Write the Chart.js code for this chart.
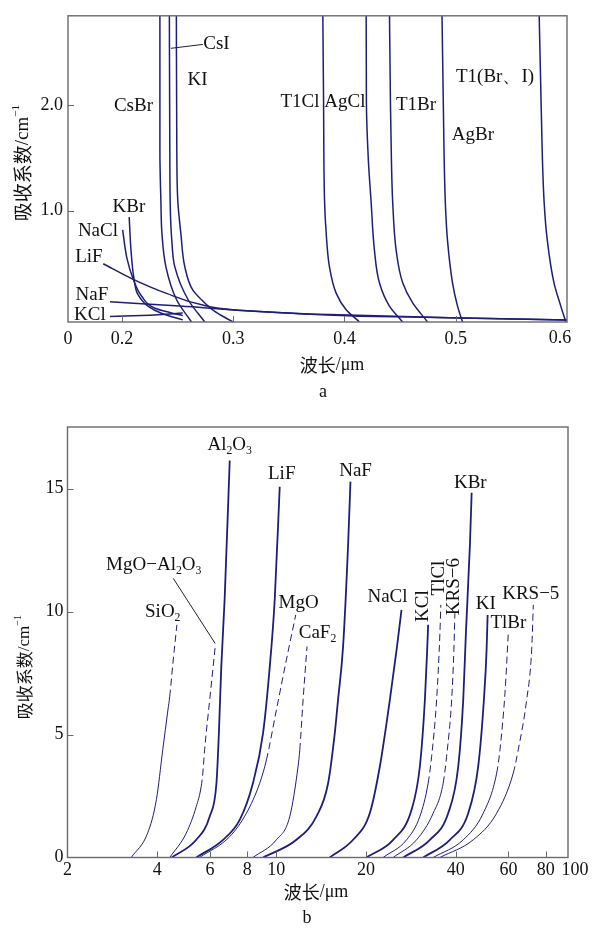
<!DOCTYPE html>
<html>
<head>
<meta charset="utf-8">
<script src="https://cdn.jsdelivr.net/npm/chart.js@4.4.1/dist/chart.umd.min.js"></script>
<style>
html, body { margin: 0; padding: 0; background: #fff; }
#wrap { position: relative; width: 600px; height: 940px; }
#chartA { position: absolute; left: 0; top: 0; }
#chartB { position: absolute; left: 0; top: 400px; }
</style>
</head>
<body>
<div id="wrap">
  <canvas id="chartA" width="600" height="400"></canvas>
  <canvas id="chartB" width="600" height="540"></canvas>
</div>
<script>
// ---- chart a : 波长 (µm) vs 吸收系数, short-wave edge ----
const xMinA = 0.1515;                 // left edge, labelled "0" (axis break)
const xTicksA = [xMinA, 0.2, 0.3, 0.4, 0.5, 0.6];
const yTicksA = [1.0, 2.0];

const csBr = [[0.2341,2.9],[0.2341,1.56],[0.2350,1.09],[0.2359,0.79],[0.2395,0.47],[0.2491,0.16],[0.2625,-0.05]];
const csI  = [[0.2426,2.9],[0.2430,1.56],[0.2435,1.00],[0.2448,0.72],[0.2475,0.47],[0.2595,0.16],[0.2744,-0.05]];
const kIa  = [[0.2489,2.9],[0.2493,1.56],[0.2502,1.09],[0.2529,0.79],[0.2565,0.47],[0.2637,0.25],[0.2715,0.16],[0.2834,0.05],[0.2998,-0.05]];
const naCla = [[0.2006,0.82],[0.2045,0.55],[0.2099,0.36],[0.2179,0.19],[0.2296,0.08],[0.2430,0.04],[0.2547,0.01]];
const kBra = [[0.2065,0.94],[0.2081,0.63],[0.2108,0.36],[0.2143,0.21],[0.2233,0.10],[0.2359,0.03],[0.2547,-0.03]];
const liFa = [[0.1832,0.50],[0.2087,0.36],[0.2401,0.22],[0.2726,0.11],[0.2996,0.065],[0.3596,0.028],[0.4135,0.005],[0.4942,-0.009],[0.6,-0.03]];
const naFa = [[0.1892,0.14],[0.2520,0.10],[0.3238,0.05],[0.3865,0.02],[0.4942,-0.01],[0.6,-0.03]];
const kCla = [[0.1892,0.003],[0.2251,0.014],[0.2547,0.035]];
const t1Cl = [[0.3805,2.9],[0.3812,2.03],[0.3821,1.09],[0.3836,0.78],[0.3865,0.47],[0.3926,0.22],[0.4015,0.065],[0.4135,-0.05]];
const agCl = [[0.4195,2.9],[0.4197,2.03],[0.4215,1.47],[0.4239,1.09],[0.4269,0.63],[0.4314,0.32],[0.4404,0.10],[0.4523,-0.05]];
const t1Br = [[0.4404,2.9],[0.4413,2.03],[0.4422,1.47],[0.4433,1.09],[0.4464,0.63],[0.4523,0.32],[0.4613,0.13],[0.4747,-0.05]];
const agBr = [[0.4876,2.9],[0.4888,2.03],[0.4906,1.09],[0.4926,0.72],[0.4971,0.32],[0.5016,0.10],[0.5061,-0.05]];
const t1BrI = [[0.5749,2.9],[0.5767,2.03],[0.5794,1.09],[0.5823,0.72],[0.5883,0.32],[0.5944,0.10],[0.5988,-0.045]];

const curvesA = [csBr, csI, kIa, naCla, kBra, liFa, naFa, kCla, t1Cl, agCl, t1Br, agBr, t1BrI];

const labelsA = [
  {x:0.2849, y:2.575, t:'CsI'}, {x:0.2679, y:2.234, t:'KI'}, {x:0.2103, y:1.991, t:'CsBr'},
  {x:0.2063, y:1.031, t:'KBr'}, {x:0.1784, y:0.813, t:'NaCl'}, {x:0.1703, y:0.564, t:'LiF'},
  {x:0.1730, y:0.206, t:'NaF'}, {x:0.1712, y:0.019, t:'KCl'},
  {x:0.3600, y:2.028, t:'T1Cl'}, {x:0.4004, y:2.028, t:'AgCl'}, {x:0.4643, y:2.000, t:'T1Br'},
  {x:0.5155, y:1.717, t:'AgBr'}, {x:0.5353, y:2.262, t:'T1(Br、I)'}
];
const leadersA = [[[0.2440,2.533],[0.2728,2.570]]];

// ---- chart b : 波长 (µm, log) vs 吸收系数, long-wave edge ----
const xMaxB = 95;                     // right edge, labelled "100"
const xTicksB = [2, 4, 6, 8, 10, 20, 40, 60, 80, xMaxB];
const xTickLabelsB = ['2','4','6','8','10','20','40','60','80','100'];
const yTicksB = [0, 5, 10, 15];

const siO2 = [[3.27,0],[3.71,0.99],[3.97,2.35],[4.17,4.38],[4.34,6.0],[4.40,6.54],[4.51,7.90],[4.65,9.46]];
const mgoAl2o3 = [[4.40,0],[5.00,0.99],[5.40,2.07],[5.61,2.89],[5.68,3.43],[5.76,4.38],[5.99,6.41],[6.26,8.65]];
const al2o3 = [[4.47,0],[5.40,0.72],[5.99,1.67],[6.31,3.02],[6.43,5.06],[6.55,7.76],[6.72,10.48],[6.99,16.14]];
const liFb = [[5.40,0],[6.64,0.72],[7.55,1.53],[8.36,3.02],[9.04,5.06],[9.52,7.76],[9.89,10.48],[10.28,15.07]];
const mgO = [[5.54,0],[6.99,0.85],[7.95,1.80],[8.81,3.02],[9.28,3.97],[10.02,6.0],[10.82,8.03],[11.63,9.86]];
const caF2 = [[8.36,0],[10.02,0.72],[11.11,1.67],[11.84,3.70],[12.0,4.38],[12.31,6.41],[12.69,8.58]];
const naFb = [[9.04,0],[11.69,0.72],[13.65,1.67],[14.93,3.02],[15.72,5.06],[16.12,6.41],[16.76,8.58],[17.42,12.71],[17.74,15.28]];
const naClb = [[15.12,0],[18.10,0.72],[20.59,1.80],[22.25,3.70],[24.04,6.41],[25.32,8.44],[26.30,10.07]];
const kClb = [[20.08,0],[24.66,0.72],[28.42,1.94],[30.30,3.70],[31.50,6.41],[32.06,8.44],[32.30,9.46]];
const tlCl = [[22.82,0],[27.36,0.72],[30.30,1.67],[32.30,3.02],[33.18,4.11],[34.48,6.41],[35.37,9.12],[35.62,10.27]];
const krs6 = [[24.66,0],[29.54,0.72],[33.58,1.80],[36.27,3.02],[37.24,4.11],[38.72,6.41],[39.40,8.44],[39.70,9.93]];
const kBrb = [[26.64,0],[32.74,0.72],[37.70,1.80],[40.74,3.70],[42.34,6.41],[43.22,9.12],[44.58,12.71],[45.18,14.83]];
const kIb = [[31.08,0],[38.20,0.72],[44.00,1.80],[47.52,3.70],[49.66,6.41],[50.70,8.44],[51.10,9.86]];
const tlBr = [[33.58,0],[42.34,0.72],[49.40,1.80],[54.80,3.43],[56.21,4.38],[58.42,6.68],[59.94,9.12]];
const krs5 = [[35.37,0],[45.74,0.72],[54.80,1.80],[62.28,3.43],[64.72,4.38],[69.06,6.41],[71.78,8.44],[72.70,10.27]];

// [points, thick?, index where the dashed part starts (-1 = none)]
const curvesB = [
  [siO2, false, 5], [mgoAl2o3, false, 3], [al2o3, true, -1], [liFb, true, -1],
  [mgO, false, 4], [caF2, false, 4], [naFb, true, -1], [naClb, true, -1],
  [kClb, true, -1], [tlCl, false, 3], [krs6, false, 3], [kBrb, true, -1],
  [kIb, true, -1], [tlBr, false, 3], [krs5, false, 3]
];

const labelsB = [
  {x:6.99, y:16.75, t:'Al_2O_3'}, {x:10.44, y:15.58, t:'LiF'}, {x:3.89, y:11.87, t:'MgO−Al_2O_3'},
  {x:4.17, y:9.97, t:'SiO_2'}, {x:11.89, y:10.36, t:'MgO'}, {x:13.76, y:9.13, t:'CaF_2'},
  {x:18.45, y:15.72, t:'NaF'}, {x:44.72, y:15.24, t:'KBr'}, {x:23.60, y:10.57, t:'NaCl'},
  {x:31.02, y:10.22, t:'KCl', rot:true}, {x:35.08, y:11.36, t:'TlCl', rot:true},
  {x:39.54, y:11.01, t:'KRS−6', rot:true},
  {x:50.38, y:10.29, t:'KI'}, {x:59.96, y:9.53, t:'TlBr'}, {x:71.28, y:10.71, t:'KRS−5'}
];
const leadersB = [[[4.52,11.35],[6.25,8.70]]];

const SERIF = '"Liberation Serif", "Times New Roman", serif';
const CJK = '"Noto Sans CJK SC", sans-serif';
const LINE = '#1e1e7a';
const TICK_SIZE = 18;

function drawSegs(ctx, segs, x, y, rot) {
  let w = 0;
  segs.forEach(s => { ctx.font = s.font; s.w = ctx.measureText(s.t).width; w += s.w; });
  ctx.save();
  ctx.translate(x, y);
  if (rot) ctx.rotate(-Math.PI / 2);
  ctx.textBaseline = 'middle';
  ctx.textAlign = 'left';
  let cx = -w / 2;
  segs.forEach(s => { ctx.font = s.font; ctx.fillText(s.t, cx, s.dy || 0); cx += s.w; });
  ctx.restore();
}

function richSegs(str, size) {
  const out = [];
  let i = 0;
  while (i < str.length) {
    if (str[i] === '_') {
      out.push({t: str[i + 1], font: (size * 0.62) + 'px ' + SERIF, dy: size * 0.3});
      i += 2;
    } else {
      let j = i;
      while (j < str.length && str[j] !== '_') j++;
      out.push({t: str.slice(i, j), font: size + 'px ' + SERIF});
      i = j;
    }
  }
  return out;
}

function yTitle(size) {
  return [
    {t: '吸收系数', font: size + 'px ' + CJK},
    {t: '/cm', font: size + 'px ' + SERIF},
    {t: '−1', font: (size * 0.6) + 'px ' + SERIF, dy: -size * 0.38}
  ];
}
function xTitle(size) {
  return [
    {t: '波长', font: size + 'px ' + CJK},
    {t: '/μm', font: size + 'px ' + SERIF}
  ];
}

function makeMarks(cfg) {
  return {
    id: 'marks',
    afterDatasetsDraw(chart) {
      const {ctx, chartArea: a, scales: {x, y}} = chart;
      ctx.save();
      ctx.strokeStyle = '#6a6a6a';
      ctx.lineWidth = 1.4;
      ctx.strokeRect(a.left, a.top, a.right - a.left, a.bottom - a.top);
      ctx.lineWidth = 1;
      ctx.beginPath();
      cfg.xMarks.forEach(v => {
        const px = Math.round(x.getPixelForValue(v)) + 0.5;
        ctx.moveTo(px, a.bottom); ctx.lineTo(px, a.bottom - 6);
      });
      cfg.yMarks.forEach(v => {
        const py = Math.round(y.getPixelForValue(v)) + 0.5;
        ctx.moveTo(a.left, py); ctx.lineTo(a.left + 6, py);
      });
      ctx.stroke();
      ctx.strokeStyle = '#222';
      ctx.beginPath();
      cfg.leaders.forEach(([p, q]) => {
        ctx.moveTo(x.getPixelForValue(p[0]), y.getPixelForValue(p[1]));
        ctx.lineTo(x.getPixelForValue(q[0]), y.getPixelForValue(q[1]));
      });
      ctx.stroke();
      ctx.fillStyle = '#111';
      cfg.labels.forEach(l => {
        drawSegs(ctx, richSegs(l.t, cfg.labelSize), x.getPixelForValue(l.x), y.getPixelForValue(l.y), l.rot);
      });
      // tick label at the axis end, set off from the edge as in the print
      cfg.edgeLabels.forEach(e => {
        drawSegs(ctx, [{t: e.t, font: TICK_SIZE + 'px ' + SERIF}], x.getPixelForValue(e.v) + e.dx, a.bottom + e.dy);
      });
      cfg.titles.forEach(tt => drawSegs(ctx, tt.segs, tt.x, tt.y, tt.rot));
      ctx.restore();
    }
  };
}

const toPts = arr => arr.map(([x, y]) => ({x, y}));

// chart a
new Chart(document.getElementById('chartA'), {
  type: 'scatter',
  data: {
    datasets: curvesA.map(c => ({
      data: toPts(c), showLine: true, borderColor: LINE, borderWidth: 1.5,
      pointRadius: 0, cubicInterpolationMode: 'monotone', indexAxis: 'y', clip: 0
    }))
  },
  options: {
    responsive: false,
    animation: false,
    layout: {padding: {top: 13, right: 33, left: 0, bottom: 0}},
    plugins: {legend: {display: false}, tooltip: {enabled: false}},
    scales: {
      x: {
        type: 'linear', min: xMinA, max: 0.6,
        grid: {display: false, drawTicks: false}, border: {display: false},
        afterBuildTicks: s => { s.ticks = xTicksA.map(v => ({value: v})); },
        afterFit: s => { s.height = 78; },
        ticks: {
          autoSkip: false, maxRotation: 0, padding: 6, color: '#111',
          font: {family: SERIF, size: TICK_SIZE},
          callback: v => v === xMinA ? '0' : (v === 0.6 ? '' : v.toFixed(1))
        }
      },
      y: {
        min: -0.05, max: 2.84,
        grid: {display: false, drawTicks: false}, border: {display: false},
        afterBuildTicks: s => { s.ticks = yTicksA.map(v => ({value: v})); },
        afterFit: s => { s.width = 68; },
        ticks: {padding: 5, color: '#111', font: {family: SERIF, size: TICK_SIZE}, callback: v => v.toFixed(1)}
      }
    }
  },
  plugins: [makeMarks({
    xMarks: [0.2, 0.3, 0.4, 0.5], yMarks: yTicksA,
    labels: labelsA, leaders: leadersA, labelSize: 19,
    edgeLabels: [{v: 0.6, t: '0.6', dx: -7, dy: 16.5}],
    titles: [
      {segs: yTitle(19), x: 23, y: 163, rot: true},
      {segs: xTitle(18), x: 332, y: 365},
      {segs: [{t: 'a', font: '18px ' + SERIF}], x: 323, y: 392}
    ]
  })]
});

// chart b
new Chart(document.getElementById('chartB'), {
  type: 'scatter',
  data: {
    datasets: curvesB.map(([c, thick, dashFrom]) => ({
      data: toPts(c), showLine: true, borderColor: LINE, borderWidth: thick ? 1.8 : 1,
      pointRadius: 0, cubicInterpolationMode: 'monotone', clip: 0,
      segment: {borderDash: ctx => (dashFrom >= 0 && ctx.p0DataIndex >= dashFrom) ? [7, 4] : undefined}
    }))
  },
  options: {
    responsive: false,
    animation: false,
    layout: {padding: {top: 27, right: 32, left: 0, bottom: 0}},
    plugins: {legend: {display: false}, tooltip: {enabled: false}},
    scales: {
      x: {
        type: 'logarithmic', min: 2, max: xMaxB,
        grid: {display: false, drawTicks: false}, border: {display: false},
        afterBuildTicks: s => { s.ticks = xTicksB.map(v => ({value: v})); },
        afterFit: s => { s.height = 82.5; },
        ticks: {
          autoSkip: false, maxRotation: 0, padding: 2, color: '#111',
          font: {family: SERIF, size: TICK_SIZE},
          callback: (v, i) => (i === xTicksB.length - 1 ? '' : xTickLabelsB[i])
        }
      },
      y: {
        min: 0, max: 17.5,
        grid: {display: false, drawTicks: false}, border: {display: false},
        afterBuildTicks: s => { s.ticks = yTicksB.map(v => ({value: v})); },
        afterFit: s => { s.width = 67.5; },
        ticks: {padding: 4, color: '#111', font: {family: SERIF, size: TICK_SIZE}, callback: v => String(v)}
      }
    }
  },
  plugins: [makeMarks({
    xMarks: [4, 6, 8, 10, 20, 40, 60, 80], yMarks: [5, 10, 15],
    labels: labelsB, leaders: leadersB, labelSize: 19,
    edgeLabels: [{v: xMaxB, t: xTickLabelsB[xTickLabelsB.length - 1], dx: 7, dy: 12.5}],
    titles: [
      {segs: yTitle(17), x: 25, y: 267, rot: true},
      {segs: xTitle(18), x: 316, y: 492},
      {segs: [{t: 'b', font: '18px ' + SERIF}], x: 307, y: 518}
    ]
  })]
});
</script>
</body>
</html>
